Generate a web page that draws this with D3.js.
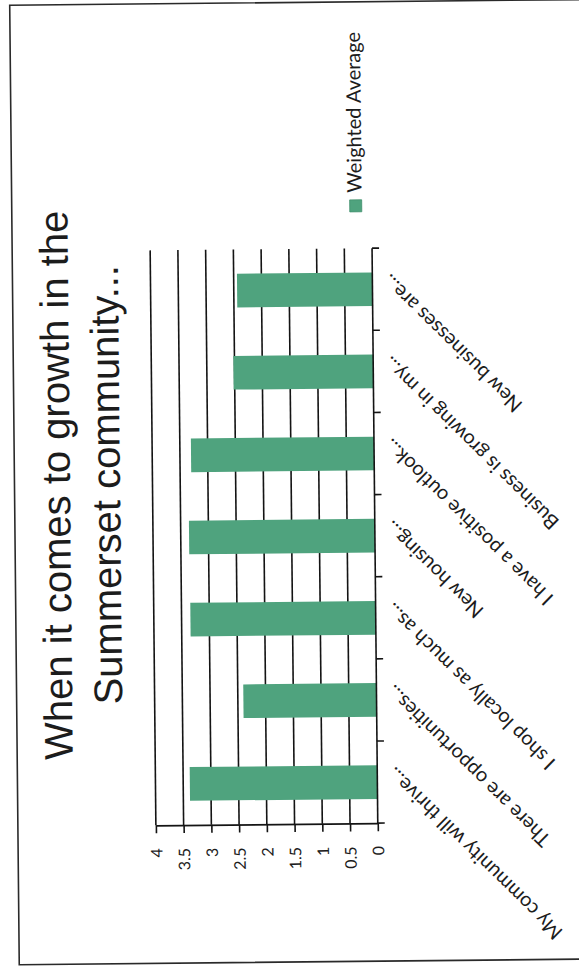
<!DOCTYPE html>
<html><head><meta charset="utf-8">
<script src="https://cdn.jsdelivr.net/npm/d3@7"></script>
<style>html,body{margin:0;padding:0;background:#fff;} svg{display:block}</style>
</head><body>
<svg id="chart" width="579" height="970"></svg>
<script>
// ---- data (original column order, left to right in the unrotated chart) ----
const categories = [
  "My community will thrive...",
  "There are opportunities...",
  "I shop locally as much as...",
  "New housing...",
  "I have a positive outlook...",
  "Business is growing in my...",
  "New businesses are..."
];
const values = [3.38, 2.40, 3.34, 3.35, 3.30, 2.52, 2.44];
const tickValues = [0, 0.5, 1, 1.5, 2, 2.5, 3, 3.5, 4];
const tickLabels = ["0", "0.5", "1", "1.5", "2", "2.5", "3", "3.5", "4"];
const titleLines = ["When it comes to growth in the", "Summerset community..."];
const seriesName = "Weighted Average";

// ---- layout ----
const W = 579, H = 970;
const barColor = "#4fa37e";
const ink = "#1c1c1c";
const labelFont = "Lato, 'Open Sans', sans-serif";

const svg = d3.select("#chart");
svg.append("rect").attr("width", W).attr("height", H).attr("fill", "#fff");
// the scanned page is tilted very slightly
const root = svg.append("g").attr("transform", "rotate(-0.57,290,485)");

// page frame
root.append("rect")
  .attr("x", 14.5).attr("y", 2.5).attr("width", 640).attr("height", 959.5)
  .attr("fill", "none").attr("stroke", "#2a2a2a").attr("stroke-width", 1.6);

const x0 = 374.4, x4 = 152.5, yTop = 249, yBot = 824;
const x = d3.scaleLinear().domain([0, 4]).range([x0, x4]);
const y = d3.scaleBand().domain(categories).range([yBot, yTop])
  .paddingInner(0.59).paddingOuter(0.295);
const step = y.step();

// gridlines
root.append("g").selectAll("line")
  .data(tickValues.filter(v => v > 0))
  .join("line")
  .attr("x1", d => x(d)).attr("x2", d => x(d))
  .attr("y1", yTop).attr("y2", yBot)
  .attr("stroke", "#141414").attr("stroke-width", 1.6);

// bars
root.append("g").selectAll("rect")
  .data(categories)
  .join("rect")
  .attr("x", (d, i) => x(values[i]))
  .attr("width", (d, i) => x(0) - x(values[i]))
  .attr("y", d => y(d))
  .attr("height", y.bandwidth())
  .attr("fill", barColor);

// value axis (runs along the bottom, pointing left)
const vAxis = root.append("g").attr("transform", `translate(0,${yBot})`)
  .call(d3.axisBottom(x).tickValues(tickValues).tickSize(8).tickSizeOuter(0)
    .tickFormat((d, i) => tickLabels[i]));
vAxis.select(".domain").attr("stroke", "#141414").attr("stroke-width", 1.6);
vAxis.selectAll(".tick line").attr("stroke", "#141414").attr("stroke-width", 1.6);
vAxis.selectAll(".tick text")
  .attr("transform", "rotate(-90)")
  .attr("x", -23).attr("y", 0).attr("dy", "0.36em")
  .style("text-anchor", "end")
  .style("font-family", labelFont).style("font-size", "16px").attr("fill", ink);

// category axis (zero line) with ticks between categories
const cAxis = root.append("g");
cAxis.append("line").attr("x1", x0).attr("x2", x0).attr("y1", yTop).attr("y2", yBot)
  .attr("stroke", "#141414").attr("stroke-width", 1.6);
cAxis.selectAll("line.ct").data(d3.range(categories.length + 1)).join("line")
  .attr("class", "ct")
  .attr("x1", x0).attr("x2", x0 + 7)
  .attr("y1", i => yBot - i * step).attr("y2", i => yBot - i * step)
  .attr("stroke", "#141414").attr("stroke-width", 1.6);

// category labels (slanted)
root.append("g").selectAll("text")
  .data(categories)
  .join("text")
  .attr("transform", d => {
    const ax = x0 + 18, ay = y(d) + y.bandwidth() / 2 - 16;
    return `translate(${ax},${ay}) rotate(-135)`;
  })
  .attr("text-anchor", "end")
  .style("font-family", labelFont).style("font-size", "20px")
  .attr("fill", ink)
  .text(d => d);

// title
root.append("g").selectAll("text")
  .data(titleLines)
  .join("text")
  .attr("transform", (d, i) => `translate(${70 + i * 50},483) rotate(-90)`)
  .attr("text-anchor", "middle")
  .style("font-family", "'Liberation Sans', Arial, sans-serif")
  .style("font-size", "40px")
  .attr("fill", ink)
  .text(d => d);

// legend
const lg = root.append("g");
lg.append("rect").attr("x", 352.5).attr("y", 200.5).attr("width", 12).attr("height", 12)
  .attr("fill", barColor).attr("stroke", "#3f8e6b").attr("stroke-width", 0.8);
lg.append("text")
  .attr("transform", "translate(364.5,193.5) rotate(-90)")
  .attr("text-anchor", "start")
  .style("font-family", labelFont).style("font-size", "20px")
  .attr("fill", ink)
  .text(seriesName);
</script>
</body></html>
